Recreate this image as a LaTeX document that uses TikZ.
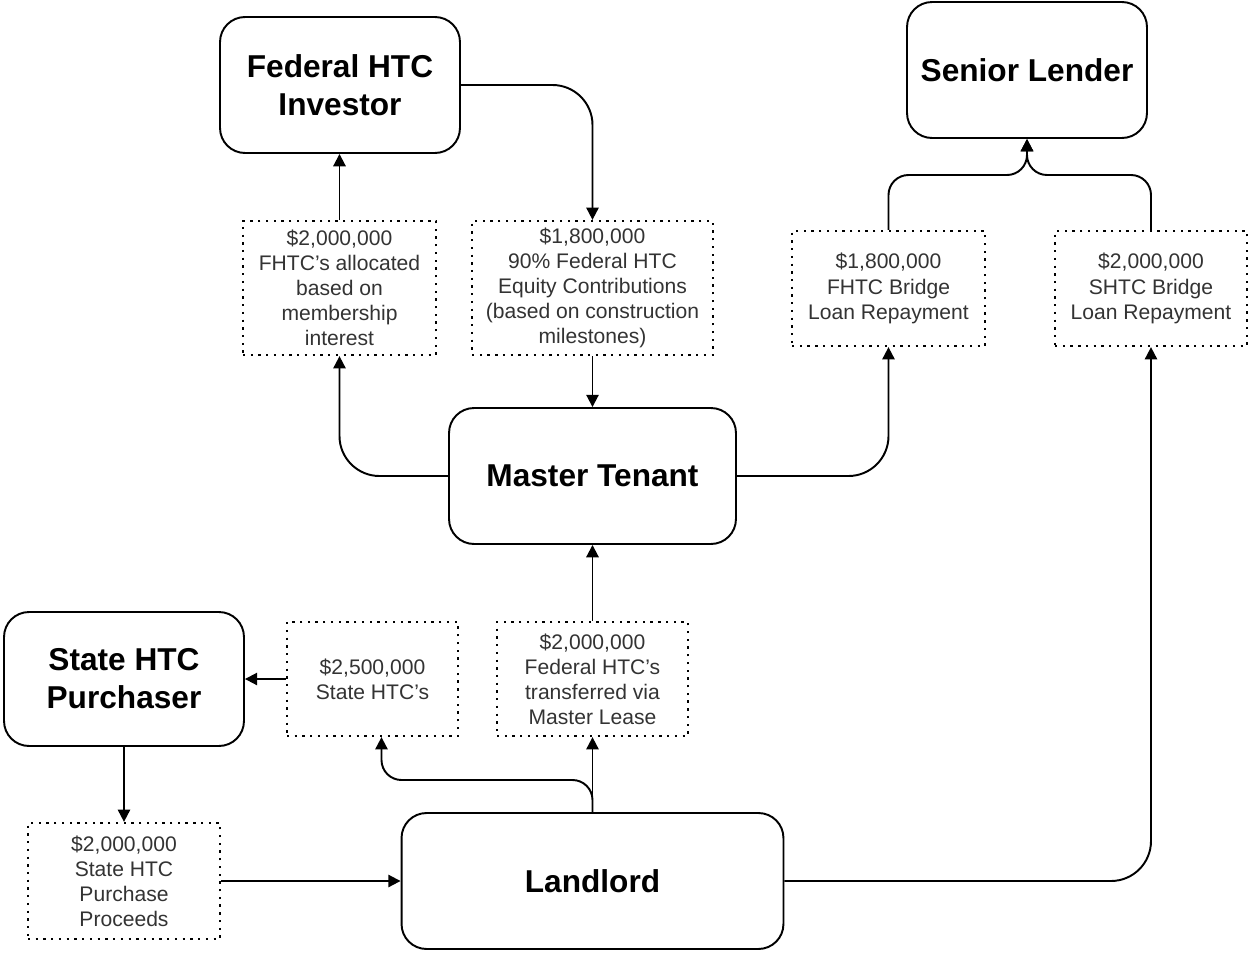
\documentclass[tikz,border=0pt]{standalone}
\usepackage{fontspec}
\setmainfont{Liberation Sans}
\usetikzlibrary{arrows.meta}

\begin{document}
\begin{tikzpicture}[x=0.02cm,y=-0.02cm]

\tikzset{
  party/.style={draw, line width=1.1pt, rounded corners=0.5cm, minimum width=4.8cm, minimum height=2.72cm, align=center, inner sep=0pt, font=\fontsize{18}{21.6}\selectfont\bfseries},
  money/.style={draw, line width=1.3pt, dash pattern=on 1.3pt off 3.1pt, align=center, inner sep=0pt, text=black!80, font=\fontsize{12}{14.3}\selectfont},
  flow/.style={line width=1.1pt, rounded corners=0.8cm, -{Triangle[length=7pt,width=7pt]}}
}

\useasboundingbox (0,0) rectangle (1252,954);

\node[party] (inv) at (340,85) {Federal HTC\\Investor};
\node[party] (lender) at (1027,70) {Senior Lender};
\node[party, minimum width=5.74cm] (mt) at (592.5,476) {Master Tenant};
\node[party, minimum height=2.68cm] (sp) at (124,679) {State HTC\\Purchaser};
\node[party, minimum width=7.64cm] (ll) at (592.5,881) {Landlord};

\node[money, minimum width=3.86cm, minimum height=2.68cm] (d1) at (339.5,288) {\$2,000,000\\FHTC's allocated\\based on\\membership\\interest};
\node[money, minimum width=4.82cm, minimum height=2.68cm] (d2) at (592.5,288) {\$1,800,000\\90\% Federal HTC\\Equity Contributions\\(based on construction\\milestones)};
\node[money, minimum width=3.86cm, minimum height=2.3cm] (d3) at (888.5,288.5) {\$1,800,000\\FHTC Bridge\\Loan Repayment};
\node[money, minimum width=3.84cm, minimum height=2.3cm] (d4) at (1151,288.5) {\$2,000,000\\SHTC Bridge\\Loan Repayment};
\node[money, minimum width=3.42cm, minimum height=2.28cm] (d5) at (372.5,679) {\$2,500,000\\State HTC's};
\node[money, minimum width=3.82cm, minimum height=2.28cm] (d6) at (592.5,679) {\$2,000,000\\Federal HTC's\\transferred via\\Master Lease};
\node[money, minimum width=3.84cm, minimum height=2.32cm] (d7) at (124,881) {\$2,000,000\\State HTC\\Purchase\\Proceeds};

\coordinate (join) at (1027,175);
\coordinate (fork) at (592.5,780);

\draw[flow] (d1.north) -- (d1.north |- inv.south);
\draw[flow] (inv.east) -| (d2.north);
\draw[flow] (d2.south) -- (mt.north);
\draw[flow] (mt.west) -| (d1.south);
\draw[flow] (mt.east) -| (d3.south);
\draw[flow, rounded corners=0.4cm] (d3.north) |- (join) -- (lender.south);
\draw[flow, rounded corners=0.4cm] (d4.north) |- (join) -- (lender.south);
\draw[flow] (ll.east) -| (d4.south);
\draw[flow] (ll.north) -- (d6.south);
\draw[flow, rounded corners=0.4cm] (ll.north) -- (fork) -| ([xshift=0.18cm]d5.south);
\draw[flow] (d6.north) -- (mt.south);
\draw[flow] (d5.west) -- (sp.east);
\draw[flow] (sp.south) -- (d7.north);
\draw[flow] (d7.east) -- (ll.west);

\end{tikzpicture}
\end{document}
